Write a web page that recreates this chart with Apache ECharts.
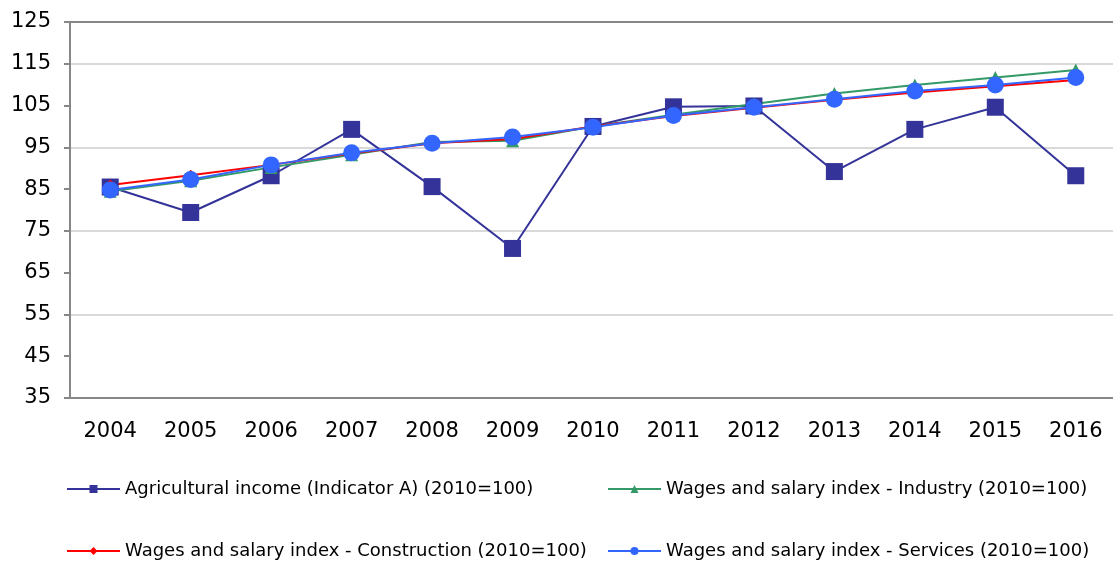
<!DOCTYPE html>
<html>
<head>
<meta charset="utf-8">
<script src="https://cdn.jsdelivr.net/npm/echarts@6/dist/echarts.min.js"></script>
<style>
  html, body { margin: 0; background: #fff; overflow: hidden; }
  /* wider than the window so the plot's right edge falls just outside the picture */
  #chart { width: 1140px; height: 562px; }
</style>
</head>
<body>
<div id="chart"></div>
<script>
const years = ["2004", "2005", "2006", "2007", "2008", "2009", "2010", "2011", "2012", "2013", "2014", "2015", "2016"];
const yTicks = [35, 45, 55, 65, 75, 85, 95, 105, 115, 125];

const agricultural = [85.5, 79.4, 88.2, 99.3, 85.6, 70.8, 100, 104.7, 104.9, 89.2, 99.3, 104.6, 88.2];
const industry = [84.5, 87.0, 90.2, 93.2, 96.3, 96.6, 100, 102.8, 105.4, 107.9, 109.9, 111.7, 113.5];
const construction = [86.0, 88.3, 90.8, 93.5, 96.0, 97.0, 100, 102.5, 104.5, 106.4, 108.1, 109.6, 111.1];
const services = [84.8, 87.3, 90.8, 93.7, 96.0, 97.5, 99.8, 102.6, 104.6, 106.5, 108.5, 109.9, 111.7];

const names = [
  "Agricultural income (Indicator A) (2010=100)",
  "Wages and salary index - Industry (2010=100)",
  "Wages and salary index - Construction (2010=100)",
  "Wages and salary index - Services (2010=100)",
];

const FONT = "DejaVu Sans";
const axisGrey = "#878787";

const chart = echarts.init(document.getElementById("chart"), null, { renderer: "canvas" });

const legendAt = (name, left, top) => ({
  data: [name], left, top, padding: 0, itemWidth: 53, itemHeight: 10, itemGap: 0,
  textStyle: { fontFamily: FONT, fontSize: 18, color: "#000" },
});

const lineSeries = (name, data, color, symbol, size) => ({
  name, type: "line", data, symbol, symbolSize: size, showSymbol: true,
  itemStyle: { color }, lineStyle: { color, width: 2 },
});

chart.setOption({
  animation: false,
  textStyle: { fontFamily: FONT },
  grid: {
    left: 70, top: 22, width: 1046, height: 376, outerBoundsMode: "none",
    show: true, borderColor: axisGrey, borderWidth: 2,
  },
  legend: [
    legendAt(names[0], 66, 480),
    legendAt(names[1], 607, 480),
    legendAt(names[2], 66, 542),
    legendAt(names[3], 607, 542),
  ],
  xAxis: {
    type: "category", data: years, boundaryGap: true,
    axisLine: { lineStyle: { color: axisGrey, width: 2 } },
    axisTick: { length: 8, lineStyle: { color: axisGrey, width: 2 } },
    axisLabel: { color: "#000", fontSize: 21, fontFamily: FONT, margin: 23 },
    splitLine: { show: false },
  },
  yAxis: {
    type: "value", min: 35, max: 125, interval: 5,
    axisLine: { show: true, lineStyle: { color: axisGrey, width: 2 } },
    axisTick: { show: true, length: 6, customValues: yTicks, lineStyle: { color: axisGrey, width: 2 } },
    axisLabel: { customValues: yTicks, color: "#000", fontSize: 21, fontFamily: FONT, margin: 19 },
    splitLine: { lineStyle: { color: ["#d9d9d9", "rgba(0,0,0,0)"], width: 2 } },
  },
  series: [
    lineSeries(names[0], agricultural, "#333399", "rect", 17),
    lineSeries(names[1], industry, "#339966", "triangle", 13),
    lineSeries(names[2], construction, "#ff0000", "diamond", 11),
    lineSeries(names[3], services, "#3366ff", "circle", 17),
  ],
});
</script>
</body>
</html>
